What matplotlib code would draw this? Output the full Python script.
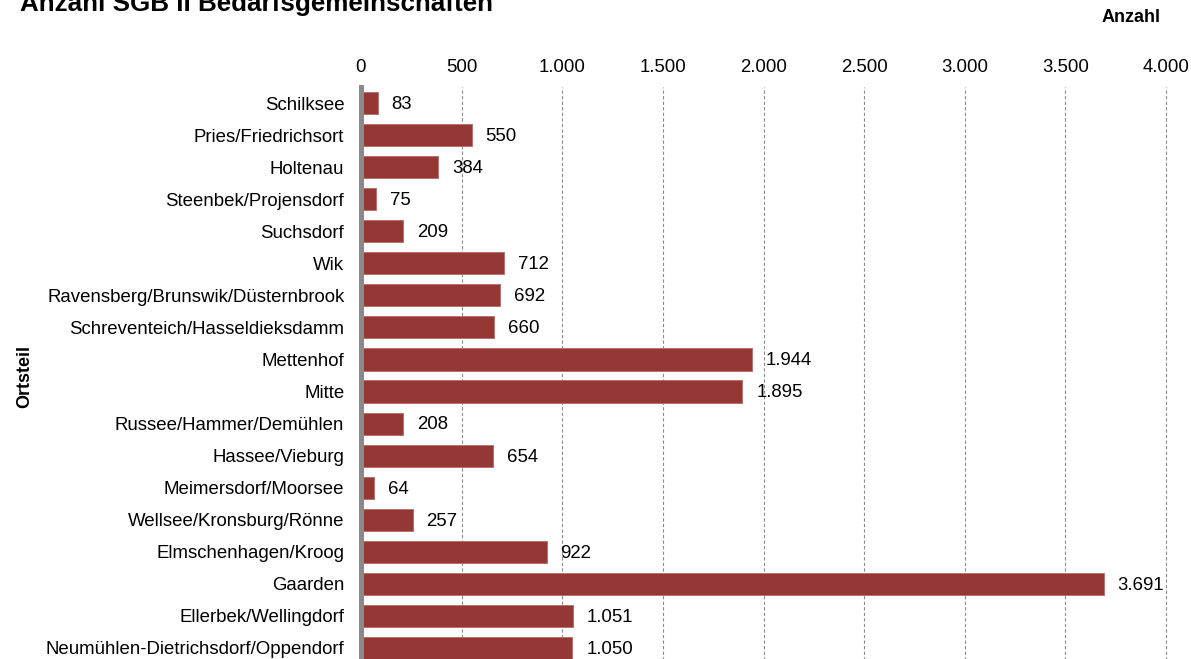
import matplotlib
matplotlib.use("Agg")
import matplotlib.pyplot as plt
from matplotlib.ticker import FuncFormatter

plt.rcParams["font.family"] = ["Liberation Sans", "DejaVu Sans"]

# Ortsteile (Kiel) und Anzahl der SGB II Bedarfsgemeinschaften
ortsteile = [
    "Schilksee", "Pries/Friedrichsort", "Holtenau", "Steenbek/Projensdorf",
    "Suchsdorf", "Wik", "Ravensberg/Brunswik/Düsternbrook",
    "Schreventeich/Hasseldieksdamm", "Mettenhof", "Mitte",
    "Russee/Hammer/Demühlen", "Hassee/Vieburg", "Meimersdorf/Moorsee",
    "Wellsee/Kronsburg/Rönne", "Elmschenhagen/Kroog", "Gaarden",
    "Ellerbek/Wellingdorf", "Neumühlen-Dietrichsdorf/Oppendorf",
]
anzahl = [83, 550, 384, 75, 209, 712, 692, 660, 1944, 1895,
          208, 654, 64, 257, 922, 3691, 1051, 1050]
x_ticks = [0, 500, 1000, 1500, 2000, 2500, 3000, 3500, 4000]


def de_format(v, _pos=None):
    return f"{int(round(v)):,}".replace(",", ".")


W, H = 1191, 659
fig = plt.figure(figsize=(W / 100, H / 100), dpi=100)

left_px, right_px = 361, 1166
top_px, bottom_px = 87, 664
ax = fig.add_axes([left_px / W, (H - bottom_px) / H,
                   (right_px - left_px) / W, (bottom_px - top_px) / H])

fs = 13.4
bar_color = "#953735"
ypos = list(range(len(ortsteile)))
ax.barh(ypos, anzahl, height=0.69, color=bar_color,
        edgecolor="#b87070", linewidth=0.7, zorder=3)

for y, v in zip(ypos, anzahl):
    ax.annotate(de_format(v), xy=(v, y), xytext=(10, -1),
                textcoords="offset points", va="center", ha="left",
                fontsize=fs, color="black", zorder=4)

ax.set_xlim(0, 4000)
ax.set_ylim(len(ortsteile) - 0.5, -0.5)
ax.set_xticks(x_ticks)
ax.xaxis.set_major_formatter(FuncFormatter(de_format))
ax.xaxis.tick_top()
ax.tick_params(axis="x", length=0, pad=8, labelsize=fs)
ax.set_yticks(ypos)
ax.set_yticklabels(ortsteile, fontsize=fs)
ax.tick_params(axis="y", length=0, pad=12)

# Gitterlinien (gestrichelt) ab 500
for t in x_ticks[1:]:
    ax.axvline(t, color="#8c8c8c", linestyle=(0, (3, 2)), linewidth=0.8,
               zorder=1, clip_on=False)

for s in ["top", "right", "bottom"]:
    ax.spines[s].set_visible(False)
ax.spines["left"].set_color("#8a8a8a")
ax.spines["left"].set_linewidth(3.6)
ax.spines["left"].set_zorder(5)

fig.text(20 / W, 1 - 11 / H, "Anzahl SGB II Bedarfsgemeinschaften",
         fontsize=18.7, fontweight="bold", ha="left", va="baseline")
fig.text(1131 / W, 1 - 18 / H, "Anzahl", fontsize=13, fontweight="bold",
         ha="center", va="center")
fig.text(25 / W, 1 - 376 / H, "Ortsteil", fontsize=13, fontweight="bold",
         rotation=90, ha="center", va="center")

fig.savefig("out.png", dpi=100, facecolor="white")
